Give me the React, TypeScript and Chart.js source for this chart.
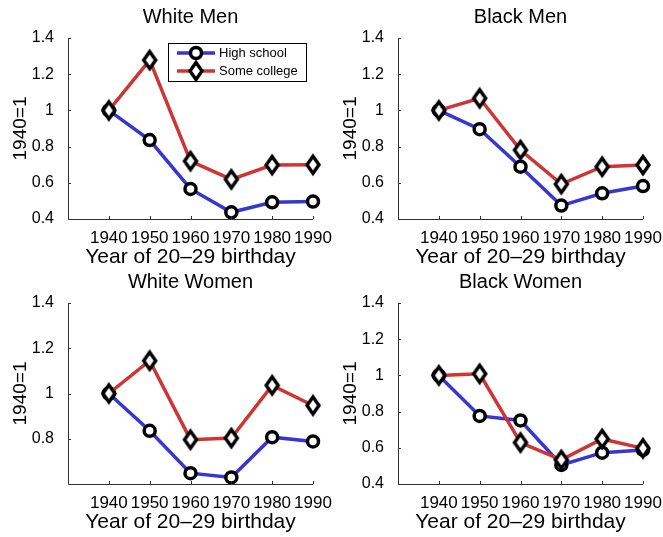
import React, { useEffect, useRef } from 'react';
import { Chart, registerables } from 'chart.js';
Chart.register(...registerables);

const years = [1940, 1950, 1960, 1970, 1980, 1990];
const yTickValues = [0.4, 0.6, 0.8, 1.0, 1.2, 1.4];

const whiteMenHS = [1.0, 0.836, 0.566, 0.437, 0.492, 0.496];
const whiteMenSC = [1.0, 1.278, 0.72, 0.619, 0.698, 0.70];
const blackMenHS = [1.0, 0.896, 0.689, 0.474, 0.542, 0.582];
const blackMenSC = [1.0, 1.067, 0.781, 0.593, 0.689, 0.698];
const whiteWomenHS = [1.0, 0.835, 0.648, 0.629, 0.807, 0.788];
const whiteWomenSC = [1.0, 1.145, 0.796, 0.803, 1.036, 0.947];
const blackWomenHS = [1.0, 0.776, 0.751, 0.505, 0.573, 0.588];
const blackWomenSC = [1.0, 1.009, 0.629, 0.533, 0.649, 0.597];

const panelTitles = ['White Men', 'Black Men', 'White Women', 'Black Women'];
const seriesNames = ['High school', 'Some college'];
const xTitle = 'Year of 20–29 birthday';
const yTitle = '1940=1';

const FONT = '"Liberation Sans", Arial, Helvetica, sans-serif';
const BLUE = '#3636d0';
const RED = '#d03535';
const AXIS = '#333333';

function makeDiamond(): HTMLCanvasElement {
  const c = document.createElement('canvas');
  c.width = 24;
  c.height = 30;
  const g = c.getContext('2d')!;
  g.beginPath();
  g.moveTo(12, 15 - 8.5);
  g.lineTo(12 + 6, 15);
  g.lineTo(12, 15 + 8.5);
  g.lineTo(12 - 6, 15);
  g.closePath();
  g.fillStyle = '#ffffff';
  g.fill();
  g.lineWidth = 3.4;
  g.lineJoin = 'miter';
  g.strokeStyle = '#000000';
  g.stroke();
  return c;
}

type PanelProps = {
  left: number;
  top: number;
  width: number;
  height: number;
  title: string;
  hs: number[];
  sc: number[];
  yMin: number;
  hideBottomLabel: boolean;
  showLegend: boolean;
};

function Panel(props: PanelProps) {
  const ref = useRef<HTMLCanvasElement | null>(null);
  useEffect(() => {
    const canvas = ref.current!;
    const diamond = makeDiamond();
    let ticksY = yTickValues.filter((v) => v >= props.yMin - 1e-9);
    if (props.hideBottomLabel) ticksY = ticksY.slice(1);
    const overlay = {
      id: 'overlay',
      afterDraw(chart: any) {
        const ctx = chart.ctx;
        const ca = chart.chartArea;
        const xs = chart.scales.x;
        const ys = chart.scales.y;
        ctx.save();
        ctx.strokeStyle = AXIS;
        ctx.lineWidth = 1;
        ctx.beginPath();
        ctx.moveTo(ca.left + 0.5, ca.top);
        ctx.lineTo(ca.left + 0.5, ca.bottom + 0.5);
        ctx.lineTo(ca.right, ca.bottom + 0.5);
        ctx.stroke();
        ctx.beginPath();
        for (const v of ticksY) {
          const p = Math.round(ys.getPixelForValue(v)) + 0.5;
          ctx.moveTo(ca.left, p);
          ctx.lineTo(ca.left + 3, p);
        }
        for (const v of years) {
          const p = Math.round(xs.getPixelForValue(v)) + 0.5;
          ctx.moveTo(p, ca.bottom);
          ctx.lineTo(p, ca.bottom - 3);
        }
        ctx.stroke();
        const cx = (ca.left + ca.right) / 2;
        ctx.fillStyle = '#000';
        ctx.textAlign = 'center';
        ctx.textBaseline = 'alphabetic';
        ctx.font = `20px ${FONT}`;
        ctx.fillText(props.title, cx, 22.5);
        ctx.font = `21px ${FONT}`;
        ctx.fillText(xTitle, cx, 263);
        ctx.save();
        ctx.translate(21, (ca.top + ca.bottom) / 2);
        ctx.rotate(-Math.PI / 2);
        ctx.font = `19px ${FONT}`;
        ctx.textBaseline = 'middle';
        ctx.fillText(yTitle, 0, 0);
        ctx.restore();
        if (props.showLegend) {
          ctx.fillStyle = '#fff';
          ctx.fillRect(168.5, 43.5, 138, 38);
          ctx.strokeStyle = '#000';
          ctx.lineWidth = 1;
          ctx.strokeRect(168.5, 43.5, 138, 38);
          const rows = [
            { y: 53, color: BLUE, name: seriesNames[0], marker: 'circle' },
            { y: 71, color: RED, name: seriesNames[1], marker: 'diamond' },
          ];
          for (const r of rows) {
            ctx.strokeStyle = r.color;
            ctx.lineWidth = 3.5;
            ctx.beginPath();
            ctx.moveTo(177, r.y);
            ctx.lineTo(215, r.y);
            ctx.stroke();
            if (r.marker === 'circle') {
              ctx.beginPath();
              ctx.arc(196, r.y, 5.5, 0, Math.PI * 2);
              ctx.fillStyle = '#fff';
              ctx.fill();
              ctx.strokeStyle = '#000';
              ctx.lineWidth = 3.5;
              ctx.stroke();
            } else {
              ctx.drawImage(diamond, 196 - 12, r.y - 15);
            }
            ctx.fillStyle = '#000';
            ctx.font = `13px ${FONT}`;
            ctx.textAlign = 'left';
            ctx.textBaseline = 'middle';
            ctx.fillText(r.name, 219, r.y + 0.5);
          }
        }
        ctx.restore();
      },
    };

    const chart = new Chart(canvas, {
      type: 'line',
      data: {
        datasets: [
          {
            label: seriesNames[0],
            data: years.map((x, i) => ({ x, y: props.hs[i] })),
            borderColor: BLUE,
            borderWidth: 3.5,
            pointStyle: 'circle',
            pointRadius: 5.5,
            pointBorderWidth: 3.5,
            pointBorderColor: '#000',
            pointBackgroundColor: '#fff',
            tension: 0,
            clip: false,
            order: 2,
          },
          {
            label: seriesNames[1],
            data: years.map((x, i) => ({ x, y: props.sc[i] })),
            borderColor: RED,
            borderWidth: 3.5,
            pointStyle: diamond as any,
            pointRadius: 9,
            pointBorderWidth: 0,
            pointBorderColor: '#000',
            pointBackgroundColor: '#fff',
            tension: 0,
            clip: false,
            order: 1,
          },
        ],
      },
      options: {
        animation: false,
        responsive: false,
        maintainAspectRatio: false,
        events: [],
        layout: {
          padding: { top: 38, left: 0, right: props.width - 313, bottom: 0 },
        },
        plugins: {
          legend: { display: false },
          title: { display: false },
          tooltip: { enabled: false },
        },
        scales: {
          x: {
            type: 'linear',
            min: 1930,
            max: 1990,
            grid: { display: false },
            border: { display: false },
            afterBuildTicks: (s: any) => {
              s.ticks = years.map((v) => ({ value: v }));
            },
            afterFit: (s: any) => {
              s.height = props.height - 219;
              s.paddingLeft = 0;
              s.paddingRight = 0;
            },
            ticks: {
              padding: 1,
              maxRotation: 0,
              autoSkip: false,
              color: '#000',
              font: { family: FONT, size: 17 },
              callback: (v: any) => String(v),
            },
          },
          y: {
            type: 'linear',
            min: props.yMin,
            max: 1.4,
            grid: { display: false },
            border: { display: false },
            afterBuildTicks: (s: any) => {
              s.ticks = ticksY.map((v) => ({ value: v }));
            },
            afterFit: (s: any) => {
              s.width = 68;
              s.paddingTop = 0;
              s.paddingBottom = 0;
            },
            ticks: {
              padding: 6,
              color: '#000',
              font: { family: FONT, size: 16 },
              callback: (v: any) => String(Math.round(Number(v) * 10) / 10),
            },
          },
        },
      },
      plugins: [overlay],
    } as any);
    return () => chart.destroy();
  }, []);
  return (
    <canvas
      ref={ref}
      width={props.width}
      height={props.height}
      style={{ position: 'absolute', left: props.left, top: props.top, width: props.width, height: props.height }}
    />
  );
}

export default function App() {
  return (
    <div style={{ position: 'fixed', left: 0, top: 0, width: 663, height: 537, background: '#fff', overflow: 'hidden' }}>
      <Panel left={0} top={0} width={340} height={272} title={panelTitles[0]} hs={whiteMenHS} sc={whiteMenSC} yMin={0.4} hideBottomLabel={false} showLegend={true} />
      <Panel left={330} top={0} width={333} height={272} title={panelTitles[1]} hs={blackMenHS} sc={blackMenSC} yMin={0.4} hideBottomLabel={false} showLegend={false} />
      <Panel left={0} top={265} width={340} height={272} title={panelTitles[2]} hs={whiteWomenHS} sc={whiteWomenSC} yMin={0.6} hideBottomLabel={true} showLegend={false} />
      <Panel left={330} top={265} width={333} height={272} title={panelTitles[3]} hs={blackWomenHS} sc={blackWomenSC} yMin={0.4} hideBottomLabel={false} showLegend={false} />
    </div>
  );
}
